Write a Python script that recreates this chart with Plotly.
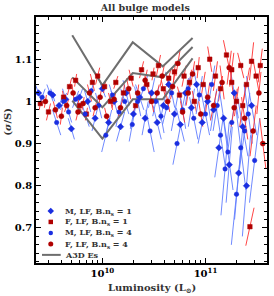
import plotly.graph_objects as go

# ---------------- data ----------------
# luminosity in units of 1e10 Lsun, sigma/S, error half-extent (dex in L, units in sigma/S)
fs1_L = [0.25,0.30,0.42,0.48,0.55,0.60,0.70,0.80,0.90,1.05,1.2,1.35,1.6,1.9,2.1,2.4,2.7,3.1,3.5,3.9,4.4,5.0,5.6,6.2,7.0,7.8,8.5,9.5,11,12.5,14,16,18,20,22,25,28,31,34,27,18,23]
fs1_S = [0.995,0.975,1.01,1.035,1.05,0.99,0.97,1.045,1.06,1.035,1.0,1.045,1.02,1.055,0.99,1.075,1.04,1.065,1.085,1.03,1.055,1.07,1.015,1.06,1.045,1.0,1.08,1.04,1.1,1.06,1.03,1.11,1.075,1.0,1.085,1.04,1.095,1.06,1.085,0.703,1.045,0.99]
fs1_dx = [0.01,0.02,-0.01,0.02,0.01,-0.02,0.01,-0.02,0.02,0.01,-0.02,0.02,0.01,-0.02,0.02,0.02,-0.02,0.01,0.02,-0.02,0.02,0.01,-0.02,0.02,0.02,-0.02,0.01,0.02,-0.02,0.02,0.02,-0.03,0.02,0.02,-0.03,0.03,0.02,-0.03,0.02,0.04,-0.02,0.03]
fs1_dy = [0.015,0.02,0.015,0.02,0.015,0.02,0.015,0.02,0.02,0.015,0.02,0.015,0.02,0.02,0.015,0.02,0.02,0.015,0.025,0.02,0.02,0.025,0.02,0.025,0.03,0.025,0.025,0.03,0.03,0.035,0.03,0.035,0.04,0.035,0.03,0.04,0.045,0.04,0.04,0.045,0.04,0.05]

fs4_L = [0.28,0.35,0.40,0.45,0.52,0.58,0.65,0.75,0.85,0.95,1.1,1.3,1.5,1.8,2.2,2.6,3.0,3.4,3.8,4.3,4.8,5.4,6.0,6.8,7.5,9.0,10.5,12,14.5,17,19,24,29,33,36]
fs4_S = [1.0,0.98,0.965,0.99,1.02,0.975,0.995,1.02,0.985,1.01,0.965,1.005,0.985,1.03,1.02,1.05,1.0,1.02,1.06,1.0,1.035,1.09,0.975,1.02,1.065,0.97,1.01,0.99,1.045,1.08,0.985,0.96,0.93,1.02,0.9]
fs4_dx = [0.01,-0.02,0.01,0.02,-0.01,0.02,0.01,-0.02,0.02,0.01,-0.02,0.02,0.02,-0.02,0.01,0.02,-0.02,0.02,0.02,-0.02,0.02,0.02,-0.02,0.02,0.02,-0.02,0.02,0.03,-0.02,0.02,0.03,-0.03,0.03,0.02,-0.03]
fs4_dy = [0.015,0.02,0.02,0.015,0.02,0.02,0.015,0.02,0.02,0.015,0.02,0.02,0.02,0.025,0.02,0.025,0.025,0.02,0.025,0.025,0.03,0.03,0.025,0.03,0.03,0.03,0.035,0.035,0.04,0.04,0.045,0.05,0.06,0.05,0.06]

ms1_L = [0.24,0.33,0.38,0.44,0.50,0.6,0.72,0.85,1.0,1.15,1.3,1.5,1.7,2.0,2.3,2.6,3.0,3.4,3.9,4.4,5.0,5.7,6.4,7.3,8.2,9.3,10.5,12,13.5,15,17,19,21,23,25,28]
ms1_S = [1.02,1.015,0.99,1.005,0.935,1.01,1.0,0.96,1.03,0.95,1.0,0.94,1.02,0.97,1.01,0.96,1.02,0.95,0.99,1.04,0.97,0.945,1.02,0.985,1.04,0.95,1.0,0.98,0.89,0.96,0.85,1.02,0.83,0.94,0.80,0.99]
ms1_dx = [-0.03,-0.02,0.03,-0.03,-0.03,0.03,-0.03,0.03,-0.03,0.03,-0.03,0.04,-0.03,0.03,-0.04,0.03,0.03,-0.04,0.03,-0.03,0.03,-0.04,0.03,0.03,-0.03,0.04,-0.03,0.03,0.04,-0.04,0.03,-0.04,0.04,-0.05,0.04,-0.05]
ms1_dy = [0.02,0.015,0.02,0.025,0.025,0.02,0.025,0.03,0.02,0.03,0.025,0.035,0.03,0.035,0.03,0.04,0.035,0.04,0.035,0.03,0.04,0.04,0.035,0.045,0.04,0.05,0.045,0.05,0.07,0.065,0.09,0.06,0.11,0.07,0.12,0.07]

ms4_L = [0.26,0.31,0.36,0.42,0.47,0.55,0.68,0.78,0.92,1.08,1.25,1.45,1.65,1.95,2.2,2.5,2.9,3.3,3.7,4.2,4.7,5.3,6.0,6.8,7.7,8.7,10,11.5,13,14,15.5,16.5,18,20,22,24,26,30]
ms4_S = [1.01,1.02,0.95,1.0,0.975,1.005,0.97,1.025,0.99,0.92,1.015,0.975,1.0,0.945,1.0,1.03,0.93,1.0,0.965,0.985,1.02,0.9,0.98,1.03,0.96,1.015,0.97,1.04,0.99,0.92,0.84,0.88,0.95,0.78,0.89,0.93,0.97,0.86]
ms4_dx = [0.03,-0.03,-0.04,0.03,-0.03,0.03,-0.04,0.03,-0.03,0.04,-0.03,0.03,-0.04,0.03,-0.03,0.04,-0.04,0.03,-0.03,0.04,-0.03,0.04,-0.03,0.03,-0.04,0.03,-0.04,0.03,0.04,-0.05,0.04,-0.05,0.04,0.05,-0.05,0.05,-0.04,0.05]
ms4_dy = [0.02,0.02,0.03,0.02,0.025,0.02,0.03,0.025,0.03,0.04,0.025,0.035,0.03,0.04,0.035,0.03,0.05,0.035,0.04,0.04,0.035,0.05,0.045,0.04,0.05,0.045,0.05,0.045,0.06,0.08,0.11,0.09,0.07,0.12,0.1,0.09,0.07,0.1]

# A3D early types: luminosity bins (1e10 Lsun) and envelope values
a3d_L = [0.51, 1.0, 1.97, 3.85, 7.5]
a3d_hi = [1.157, 1.038, 1.140, 1.083, 1.150]
a3d_mid = [1.057, 0.986, 1.067, 1.057, 1.129]
a3d_lo = [1.002, 0.912, 1.005, 1.005, 1.102]

legend_names = ["M, LF, B.n<sub>s</sub> = 1", "F, LF, B.n<sub>s</sub> = 1",
                "M, LF, B.n<sub>s</sub> = 4", "F, LF, B.n<sub>s</sub> = 4", "A3D Es"]

FONT = "DejaVu Serif"
TXT = "#333333"
BLUE_L, BLUE_M = "#5f7cff", "#1a2ee0"
RED_L, RED_M = "#ff3030", "#b00000"
GRAY = "#6e6e6e"

fig = go.Figure()

def err_segments(L, S, dx, dy):
    xs, ys = [], []
    for l, s, a, b in zip(L, S, dx, dy):
        xs += [l * 1e10 * 10 ** (-a), l * 1e10 * 10 ** (a), None]
        ys += [s - b, s + b, None]
    return xs, ys

series = [
    (ms1_L, ms1_S, ms1_dx, ms1_dy, BLUE_L, BLUE_M, "diamond", 5),
    (fs1_L, fs1_S, fs1_dx, fs1_dy, RED_L, RED_M, "square", 4.5),
    (ms4_L, ms4_S, ms4_dx, ms4_dy, BLUE_L, BLUE_M, "circle", 4.5),
    (fs4_L, fs4_S, fs4_dx, fs4_dy, RED_L, RED_M, "circle", 5),
]

for L, S, dx, dy, lc, mc, sym, sz in series:
    xs, ys = err_segments(L, S, dx, dy)
    fig.add_trace(go.Scatter(x=xs, y=ys, mode="lines", line=dict(color=lc, width=0.9),
                             showlegend=False, hoverinfo="skip"))

for vals in [a3d_hi, a3d_mid, a3d_lo]:
    fig.add_trace(go.Scatter(x=[v * 1e10 for v in a3d_L], y=vals, mode="lines",
                             line=dict(color=GRAY, width=2), showlegend=False))

for L, S, dx, dy, lc, mc, sym, sz in series:
    fig.add_trace(go.Scatter(x=[l * 1e10 for l in L], y=S, mode="markers", showlegend=False,
                             marker=dict(symbol=sym, size=sz, color=mc, line=dict(width=0.5, color=mc))))

# ---- hand-built legend on an overlay axis (0..1 over the plot area) ----
leg_rows = [0.211, 0.167, 0.122, 0.077]
leg_syms = [("diamond", BLUE_M, 5), ("square", RED_M, 4.5), ("circle", BLUE_M, 4.5), ("circle", RED_M, 5)]
for yv, (sym, col, sz) in zip(leg_rows, leg_syms):
    fig.add_trace(go.Scatter(x=[0.064], y=[yv], xaxis="x2", yaxis="y2", mode="markers",
                             marker=dict(symbol=sym, size=sz, color=col), showlegend=False,
                             hoverinfo="skip"))
fig.add_trace(go.Scatter(x=[0.026, 0.107], y=[0.033, 0.033], xaxis="x2", yaxis="y2", mode="lines",
                         line=dict(color=GRAY, width=2), showlegend=False, hoverinfo="skip"))
for yv, txt in zip(leg_rows + [0.033], legend_names):
    fig.add_annotation(x=0.116, y=yv, xref="paper", yref="paper", text=txt, showarrow=False,
                       xanchor="left", yanchor="middle",
                       font=dict(family=FONT, size=8, color=TXT, weight="bold"))

axis_common = dict(showline=True, linecolor="black", linewidth=1.5, mirror="ticks",
                   ticks="inside", ticklen=5, tickwidth=1, tickcolor="black",
                   showgrid=False, zeroline=False,
                   tickfont=dict(family=FONT, size=10, color="black", weight="bold"))

fig.update_layout(
    xaxis=dict(type="log", range=[9.356, 11.597],
               tickvals=[1e10, 1e11], ticktext=["10<sup>10</sup>", "10<sup>11</sup>"],
               minor=dict(tickvals=[3e9, 4e9, 5e9, 6e9, 7e9, 8e9, 9e9,
                                    2e10, 3e10, 4e10, 5e10, 6e10, 7e10, 8e10, 9e10,
                                    2e11, 3e11],
                          ticks="inside", ticklen=3, tickcolor="black"),
               **axis_common),
    yaxis=dict(range=[0.617, 1.2], tickvals=[0.7, 0.8, 0.9, 1.0, 1.1],
               ticktext=["0.7", "0.8", "0.9", "1", "1.1"],
               minor=dict(dtick=0.02, ticks="inside", ticklen=3, tickcolor="black"),
               **axis_common),
    xaxis2=dict(overlaying="x", range=[0, 1], visible=False, fixedrange=True),
    yaxis2=dict(overlaying="y", range=[0, 1], visible=False, fixedrange=True),
)

# axis titles as annotations for exact placement
fig.add_annotation(x=0.5, y=-0.102, xref="paper", yref="paper", text="Luminosity (L<sub>⊙</sub>)",
                   showarrow=False, xanchor="center", yanchor="middle",
                   font=dict(family=FONT, size=10, color=TXT, weight="bold"))
fig.add_annotation(x=-0.125, y=0.575, xref="paper", yref="paper", text="(<i>σ</i>/S)",
                   showarrow=False, xanchor="center", yanchor="middle", textangle=-90,
                   font=dict(family=FONT, size=10, color=TXT, weight="bold"))

fig.update_layout(
    width=274, height=296,
    margin=dict(l=36, r=5, t=17, b=33),
    paper_bgcolor="white", plot_bgcolor="white",
    title=dict(text="All bulge models", x=0.53, xanchor="center", y=0.985, yanchor="top",
               font=dict(family=FONT, size=9.5, color=TXT, weight="bold")),
    showlegend=False,
)

fig.write_html("out.html", config={"displayModeBar": False})

# remove the browser's default page margin so the figure sits at the window's corner
with open("out.html", "r", encoding="utf-8") as f:
    html = f.read()
html = html.replace("<head>", "<head><style>html,body{margin:0;padding:0;overflow:hidden;}</style>", 1)
with open("out.html", "w", encoding="utf-8") as f:
    f.write(html)
